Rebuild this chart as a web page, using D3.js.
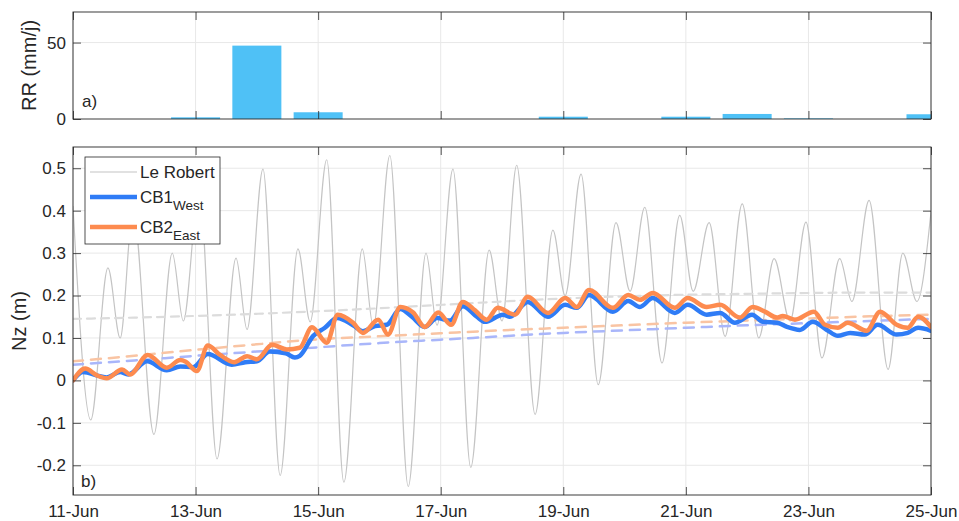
<!DOCTYPE html>
<html>
<head>
<meta charset="utf-8">
<script src="https://cdn.jsdelivr.net/npm/d3@7"></script>
<style>
body { margin: 0; background: #fff; }
svg text { font-family: "Liberation Sans", Arial, sans-serif; fill: #262626; }
</style>
</head>
<body>
<script>
// all times are day offsets from 11-Jun
var startDate = new Date(2018, 5, 11);
function toDate(t) { return new Date(startDate.getTime() + t * 864e5); }

// a) daily rain
var rainDay = [0, 1, 2, 3, 4, 5, 6, 7, 8, 9, 10, 11, 12, 13, 14];
var rainMm  = [0, 0, 1.1, 48, 4.4, 0, 0, 0, 1.5, 0, 1.5, 3.3, 0.4, 0, 3.1];

// b) Le Robert tide gauge (turning points)
var tideT = [0, 0.29, 0.57, 0.77, 0.98, 1.32, 1.62, 1.80, 2.06, 2.35, 2.66, 2.84, 3.10, 3.38,
  3.67, 3.87, 4.14, 4.42, 4.72, 4.90, 5.17, 5.47, 5.76, 5.94, 6.20, 6.49, 6.79, 7.00,
  7.24, 7.54, 7.83, 8.03, 8.29, 8.57, 8.86, 9.09, 9.33, 9.61, 9.90, 10.12, 10.38, 10.64,
  10.92, 11.19, 11.44, 11.70, 11.96, 12.22, 12.51, 12.71, 12.99, 13.30, 13.54, 13.77, 14.0];
var tideV = [0.41, -0.093, 0.265, 0.10, 0.40, -0.127, 0.30, 0.14, 0.45, -0.185, 0.288, 0.12, 0.498, -0.224,
  0.31, 0.138, 0.52, -0.24, 0.31, 0.127, 0.53, -0.25, 0.30, 0.13, 0.498, -0.205, 0.307, 0.14,
  0.507, -0.08, 0.354, 0.20, 0.486, -0.01, 0.372, 0.21, 0.408, 0.041, 0.389, 0.21, 0.372, 0.104,
  0.416, 0.10, 0.287, 0.14, 0.373, 0.053, 0.287, 0.186, 0.424, 0.026, 0.30, 0.186, 0.397];

// CB1 West
var cb1T = [0, 0.16, 0.44, 0.55, 0.77, 0.90, 1.21, 1.53, 1.75, 1.96, 2.20, 2.59, 2.81, 3.00,
  3.21, 3.47, 3.62, 3.70, 3.92, 4.11, 4.31, 4.57, 4.73, 4.93, 5.12, 5.34, 5.53, 5.74, 5.94,
  6.15, 6.36, 6.59, 6.72, 7.02, 7.13, 7.42, 7.75, 8.03, 8.22, 8.42, 8.81, 9.06, 9.25, 9.46,
  9.82, 10.03, 10.34, 10.56, 10.80, 11.08, 11.26, 11.49, 11.65, 11.86, 12.07, 12.30, 12.48,
  12.68, 12.92, 13.13, 13.44, 13.62, 13.79, 14.0];
var cb1V = [0.0, 0.02, 0.01, 0.007, 0.02, 0.014, 0.045, 0.024, 0.033, 0.031, 0.062, 0.037, 0.043, 0.045,
  0.068, 0.064, 0.054, 0.058, 0.105, 0.124, 0.147, 0.13, 0.116, 0.128, 0.131, 0.168, 0.15, 0.126, 0.147,
  0.141, 0.175, 0.15, 0.138, 0.155, 0.15, 0.185, 0.15, 0.178, 0.171, 0.201, 0.162, 0.187, 0.173, 0.194,
  0.159, 0.178, 0.155, 0.159, 0.136, 0.155, 0.138, 0.136, 0.126, 0.119, 0.138, 0.119, 0.105,
  0.112, 0.108, 0.131, 0.108, 0.112, 0.124, 0.117];

// CB2 East
var cb2T = [0, 0.20, 0.39, 0.55, 0.80, 0.93, 1.22, 1.53, 1.75, 1.84, 2.02, 2.20, 2.40, 2.63, 2.84,
  3.00, 3.25, 3.49, 3.70, 3.90, 4.14, 4.32, 4.57, 4.73, 4.98, 5.14, 5.34, 5.55, 5.74, 5.96,
  6.17, 6.36, 6.56, 6.75, 6.93, 7.21, 7.42, 7.75, 8.03, 8.22, 8.42, 8.81, 9.06, 9.25, 9.46,
  9.82, 10.03, 10.34, 10.56, 10.88, 11.09, 11.29, 11.49, 11.58, 11.78, 12.09, 12.27, 12.48,
  12.64, 12.95, 13.17, 13.44, 13.62, 13.79, 14.0];
var cb2V = [0.0, 0.028, 0.012, 0.005, 0.026, 0.014, 0.06, 0.03, 0.048, 0.044, 0.022, 0.082, 0.06, 0.043, 0.057,
  0.05, 0.084, 0.073, 0.077, 0.125, 0.089, 0.155, 0.136, 0.112, 0.143, 0.108, 0.173, 0.16, 0.126, 0.16,
  0.131, 0.185, 0.165, 0.143, 0.171, 0.155, 0.197, 0.159, 0.194, 0.173, 0.213, 0.171, 0.201, 0.19, 0.206,
  0.171, 0.194, 0.173, 0.178, 0.148, 0.173, 0.162, 0.148, 0.152, 0.143, 0.162, 0.131, 0.124,
  0.136, 0.117, 0.162, 0.131, 0.124, 0.15, 0.126];

// slow trends (dashed)
var trendDay  = [0, 1, 2, 3, 4, 5, 6, 7, 8, 9, 10, 11, 12, 13, 14];
var trendTide = [0.145, 0.148, 0.152, 0.157, 0.163, 0.17, 0.178, 0.186, 0.193, 0.198, 0.202, 0.204, 0.206, 0.207, 0.207];
var trendCB1  = [0.037, 0.047, 0.058, 0.068, 0.078, 0.088, 0.096, 0.104, 0.112, 0.118, 0.124, 0.13, 0.135, 0.14, 0.145];
var trendCB2  = [0.045, 0.058, 0.072, 0.085, 0.097, 0.104, 0.111, 0.118, 0.124, 0.13, 0.136, 0.141, 0.146, 0.151, 0.155];

var W = 959, H = 521;
var left = 73, right = 931;
var topA = 12, botA = 119, topB = 147, botB = 495;
var tickLen = 8;
var ink = "#262626", gridCol = "#e8e8e8";

var svg = d3.select("body").append("svg").attr("width", W).attr("height", H);

var x = d3.scaleTime().domain([toDate(0), toDate(14)]).range([left, right]);
var xTicks = d3.timeDay.every(2).range(toDate(0), toDate(14.01));
var fmtDay = d3.timeFormat("%d-%b");

var yA = d3.scaleLinear().domain([0, 70]).range([botA, topA]);
var yB = d3.scaleLinear().domain([-0.27, 0.55]).range([botB, topB]);

function clip(id, y0, y1) {
  svg.append("clipPath").attr("id", id).append("rect")
    .attr("x", left).attr("y", y0).attr("width", right - left).attr("height", y1 - y0);
}
clip("clipA", topA, botA);
clip("clipB", topB, botB);

function grid(y, yTicks, y0, y1) {
  var g = svg.append("g").attr("stroke", gridCol).attr("stroke-width", 1);
  g.selectAll(".gx").data(xTicks).enter().append("line")
    .attr("x1", function(d) { return x(d); }).attr("x2", function(d) { return x(d); })
    .attr("y1", y0).attr("y2", y1);
  g.selectAll(".gy").data(yTicks).enter().append("line")
    .attr("x1", left).attr("x2", right)
    .attr("y1", function(d) { return y(d); }).attr("y2", function(d) { return y(d); });
}

function frame(y, yTicks, y0, y1, labels) {
  var fmtY = function(d) { return String(+d.toFixed(2)); };
  var gl = svg.append("g").attr("transform", "translate(" + left + ",0)")
    .call(d3.axisLeft(y).tickValues(yTicks).tickSize(-tickLen).tickPadding(7).tickFormat(fmtY));
  var gr = svg.append("g").attr("transform", "translate(" + right + ",0)")
    .call(d3.axisRight(y).tickValues(yTicks).tickSize(-tickLen).tickFormat(""));
  var gb = svg.append("g").attr("transform", "translate(0," + y1 + ")")
    .call(d3.axisBottom(x).tickValues(xTicks).tickSize(-tickLen).tickPadding(10)
      .tickFormat(labels ? fmtDay : ""));
  var gt = svg.append("g").attr("transform", "translate(0," + y0 + ")")
    .call(d3.axisTop(x).tickValues(xTicks).tickSize(-tickLen).tickFormat(""));
  [gl, gr, gb, gt].forEach(function(g) {
    g.select(".domain").remove();
    g.selectAll("line").attr("stroke", ink).attr("stroke-width", 0.8);
    g.selectAll("text").attr("font-size", 17).attr("fill", ink)
      .style("font-family", "'Liberation Sans', Arial, sans-serif");
  });
  svg.append("rect").attr("x", left).attr("y", y0)
    .attr("width", right - left).attr("height", y1 - y0)
    .attr("fill", "none").attr("stroke", ink).attr("stroke-width", 0.9);
}

// ---- panel a
grid(yA, [50], topA, botA);
var dayW = x(toDate(1)) - x(toDate(0));
svg.append("g").attr("clip-path", "url(#clipA)")
  .selectAll("rect").data(rainDay).enter().append("rect")
  .attr("x", function(d) { return x(toDate(d)) - 0.4 * dayW; })
  .attr("width", 0.8 * dayW)
  .attr("y", function(d, i) { return yA(rainMm[i]); })
  .attr("height", function(d, i) { return yA(0) - yA(rainMm[i]); })
  .attr("fill", "#4fc1f6");
frame(yA, [0, 50], topA, botA, false);

// ---- panel b
grid(yB, yB.ticks(10), topB, botB);

var pb = svg.append("g").attr("clip-path", "url(#clipB)");
function series(ts, vs, col, w, dash, curve) {
  var pts = ts.map(function(t, i) { return [toDate(t), vs[i]]; });
  var line = d3.line()
    .x(function(d) { return x(d[0]); })
    .y(function(d) { return yB(d[1]); })
    .curve(curve || d3.curveLinear);
  pb.append("path").datum(pts).attr("d", line)
    .attr("fill", "none").attr("stroke", col).attr("stroke-width", w)
    .attr("stroke-linejoin", "round").attr("stroke-linecap", "round")
    .attr("stroke-dasharray", dash || null);
}

series(tideT, tideV, "#c4c4c4", 1.2, null, d3.curveMonotoneX);
series(trendDay, trendTide, "#dcdcdc", 2.2, "8,6", d3.curveMonotoneX);
series(trendDay, trendCB2, "#f9c4a3", 2.5, "10,8", d3.curveMonotoneX);
series(trendDay, trendCB1, "#a9b6fa", 2.5, "10,8", d3.curveMonotoneX);
series(cb1T, cb1V, "#2f7cf6", 4.5, null, d3.curveMonotoneX);
series(cb2T, cb2V, "#fd8b4f", 4.5, null, d3.curveMonotoneX);

frame(yB, yB.ticks(10), topB, botB, true);

// panel tags
svg.append("text").attr("x", 82).attr("y", 107).attr("font-size", 17).text("a)");
svg.append("text").attr("x", 81).attr("y", 487).attr("font-size", 17).text("b)");

// axis titles
svg.append("text").attr("transform", "translate(36," + ((topA + botA) / 2) + ") rotate(-90)")
  .attr("text-anchor", "middle").attr("font-size", 20).text("RR (mm/j)");
svg.append("text").attr("transform", "translate(26," + ((topB + botB) / 2) + ") rotate(-90)")
  .attr("text-anchor", "middle").attr("font-size", 20).text("Nz (m)");

// legend
var leg = svg.append("g");
leg.append("rect").attr("x", 85).attr("y", 157).attr("width", 135).attr("height", 87)
  .attr("fill", "#fff").attr("stroke", ink).attr("stroke-width", 0.8);
var legItems = [
  { name: "Le Robert", sub: "", col: "#c4c4c4", w: 1.2, y: 172 },
  { name: "CB1", sub: "West", col: "#2f7cf6", w: 4.5, y: 197 },
  { name: "CB2", sub: "East", col: "#fd8b4f", w: 4.5, y: 227 }
];
legItems.forEach(function(it) {
  leg.append("line").attr("x1", 90).attr("x2", 137).attr("y1", it.y).attr("y2", it.y)
    .attr("stroke", it.col).attr("stroke-width", it.w);
  var t = leg.append("text").attr("x", 140).attr("y", it.y + 6).attr("font-size", 17).text(it.name);
  if (it.sub) {
    t.append("tspan").attr("dy", 7).attr("font-size", 13.5).text(it.sub);
  }
});
</script>
</body>
</html>
